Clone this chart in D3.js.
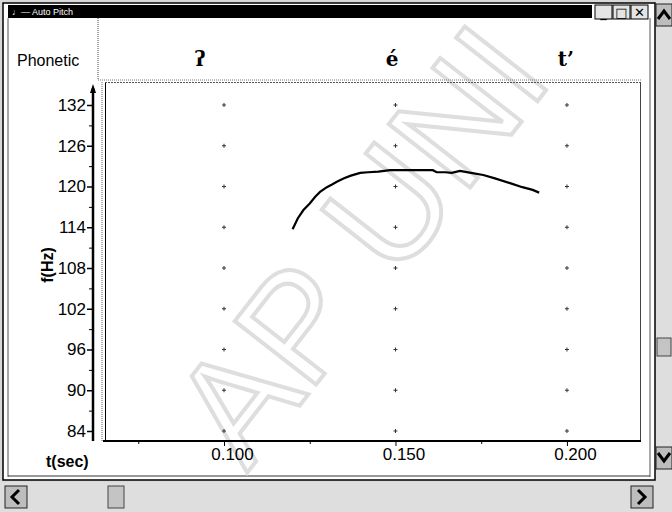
<!DOCTYPE html>
<html>
<head>
<meta charset="utf-8">
<script src="https://cdn.jsdelivr.net/npm/d3@7"></script>
<style>
  body { margin: 0; background: #d9d9d9; }
  svg { display: block; }
  .tick text { font-family: "Liberation Sans Narrow", "Liberation Sans", Arial, sans-serif; font-size: 17px; fill: #000; }
</style>
</head>
<body>
<svg id="chart" width="672" height="512"></svg>
<script>
// pitch track (seconds, Hz)
const times = [0.1200, 0.1215, 0.1231, 0.1250, 0.1266, 0.1280, 0.1300, 0.1315, 0.1329, 0.1350,
  0.1370, 0.1397, 0.1420, 0.1450, 0.1484, 0.1520, 0.1560, 0.1590, 0.1609, 0.1620, 0.1645,
  0.1664, 0.1688, 0.1720, 0.1756, 0.1790, 0.1834, 0.1870, 0.1900, 0.1919];
const pitch = [113.7, 115.3, 116.5, 117.5, 118.5, 119.2, 119.9, 120.3, 120.7, 121.2,
  121.6, 122.0, 122.1, 122.2, 122.4, 122.4, 122.4, 122.4, 122.4, 122.1, 122.1,
  122.0, 122.3, 122.0, 121.7, 121.2, 120.5, 119.9, 119.5, 119.1];

const yTicks = [84, 90, 96, 102, 108, 114, 120, 126, 132];
const yMinor = [87, 93, 99, 105, 111, 117, 123, 129];
const xTicks = [0.100, 0.150, 0.200];
const xTickLabels = ['0.100', '0.150', '0.200'];
const xMinor = [0.075, 0.125, 0.175];

const phonetic = ['ʔ', 'é', 't’'];
const phoneticTimes = [0.093, 0.149, 0.1997];

// faint scan watermark letters
const wmLetters = ['A', 'P', 'U', 'N', 'I'];
const wmOffsets = [0, 100, 242, 350, 458];

const svg = d3.select('#chart');

const x = d3.scaleLinear().domain([0.0653, 0.2213]).range([105, 640]);
const y = d3.scaleLinear().domain([84, 132]).range([431, 105]);

//window body
svg.append('rect').attr('x', 3).attr('y', 3).attr('width', 652).attr('height', 477)
  .attr('fill', '#fff').attr('stroke', '#000').attr('stroke-width', 1.5);
svg.append('line').attr('x1', 8).attr('x2', 8).attr('y1', 18).attr('y2', 477).attr('stroke', '#555');
svg.append('line').attr('x1', 650).attr('x2', 650).attr('y1', 18).attr('y2', 477).attr('stroke', '#555');
svg.append('line').attr('x1', 8).attr('x2', 650).attr('y1', 476).attr('y2', 476).attr('stroke', '#333');

// watermark
const ang = -52 * Math.PI / 180;
svg.append('g').selectAll('text')
  .data(wmLetters)
  .join('text')
  .attr('transform', (d, i) => `translate(${247 + wmOffsets[i] * Math.cos(ang)},${473 + wmOffsets[i] * Math.sin(ang)}) rotate(-52)`)
  .attr('font-family', 'Liberation Sans, Arial, sans-serif')
  .attr('font-size', 150)
  .attr('fill', 'none').attr('stroke', '#dedede').attr('stroke-width', 4)
  .text(d => d);

//title bar
svg.append('rect').attr('x', 8).attr('y', 5).attr('width', 584).attr('height', 13).attr('fill', '#000');
svg.append('text').attr('x', 12).attr('y', 15)
  .attr('font-family', 'Liberation Sans, Arial, sans-serif').attr('font-size', 9)
  .attr('fill', '#fff').text('♩— Auto Pitch');
const btnX = [595, 613, 631];
const btnGlyph = ['_', '□', '✕'];
btnX.forEach((bx, i) => {
  svg.append('rect').attr('x', bx).attr('y', 5).attr('width', 17).attr('height', 14)
    .attr('fill', '#e4e4e4').attr('stroke', '#000');
  svg.append('text').attr('x', bx + 8.5).attr('y', 17).attr('text-anchor', 'middle')
    .attr('font-family', 'DejaVu Sans, sans-serif').attr('font-weight', 'bold').attr('font-size', 13)
    .text(btnGlyph[i]);
});

// phonetic row
svg.append('text').attr('x', 17).attr('y', 66)
  .attr('font-family', 'Liberation Sans, Arial, sans-serif').attr('font-size', 16)
  .text('Phonetic');
svg.append('line').attr('x1', 98).attr('x2', 98).attr('y1', 18).attr('y2', 80)
  .attr('stroke', '#444').attr('stroke-dasharray', '1,1');
svg.append('line').attr('x1', 98).attr('x2', 642).attr('y1', 80).attr('y2', 80)
  .attr('stroke', '#777').attr('stroke-dasharray', '1,1');
svg.selectAll('text.phon')
  .data(phonetic)
  .join('text')
  .attr('class', 'phon')
  .attr('x', (d, i) => x(phoneticTimes[i]))
  .attr('y', 66)
  .attr('text-anchor', 'middle')
  .attr('font-family', 'DejaVu Serif, serif')
  .attr('font-weight', 'bold')
  .attr('font-size', 20)
  .text(d => d);

// plot frame
svg.append('line').attr('x1', 102).attr('x2', 102).attr('y1', 82).attr('y2', 441)
  .attr('stroke', '#666').attr('stroke-dasharray', '1,1');
svg.append('line').attr('x1', 105.5).attr('x2', 105.5).attr('y1', 82).attr('y2', 441).attr('stroke', '#000');
svg.append('line').attr('x1', 105).attr('x2', 640).attr('y1', 82.5).attr('y2', 82.5)
  .attr('stroke', '#555').attr('stroke-dasharray', '2,1');
svg.append('line').attr('x1', 640.5).attr('x2', 640.5).attr('y1', 82).attr('y2', 441).attr('stroke', '#444');

// grid plus marks
const gridPts = [];
xTicks.forEach(t => yTicks.forEach(f => gridPts.push([t, f])));
svg.append('g').selectAll('path')
  .data(gridPts)
  .join('path')
  .attr('d', d => `M${x(d[0]) - 2},${y(d[1])}h4M${x(d[0])},${y(d[1]) - 2}v4`)
  .attr('stroke', '#333').attr('stroke-width', 1);

// y axis
const yAxis = svg.append('g').attr('transform', 'translate(93,0)')
  .call(d3.axisLeft(y).tickValues(yTicks).tickSize(6).tickSizeOuter(0).tickPadding(1));
yAxis.select('.domain').remove();
yAxis.selectAll('.tick line').attr('stroke-width', 1.5);
svg.append('g').attr('transform', 'translate(93,0)')
  .call(d3.axisLeft(y).tickValues(yMinor).tickSize(4).tickFormat(''))
  .select('.domain').remove();
svg.append('line').attr('x1', 93).attr('x2', 93).attr('y1', 88).attr('y2', 441)
  .attr('stroke', '#000').attr('stroke-width', 2.5);
svg.append('path').attr('d', 'M93,84 L90,93 L96,93 Z').attr('fill', '#000');

// x axis
const xAxis = svg.append('g').attr('transform', 'translate(0,441)')
  .call(d3.axisBottom(x).tickValues(xTicks).tickSize(5).tickSizeOuter(0).tickPadding(2)
    .tickFormat((d, i) => xTickLabels[i]));
xAxis.select('.domain').remove();
xAxis.selectAll('.tick text').attr('dx', 8);
svg.append('g').attr('transform', 'translate(0,441)')
  .call(d3.axisBottom(x).tickValues(xMinor).tickSize(3).tickFormat(''))
  .select('.domain').remove();
svg.append('line').attr('x1', 103).attr('x2', 641).attr('y1', 441).attr('y2', 441)
  .attr('stroke', '#000').attr('stroke-width', 2);

// axis titles
svg.append('text')
  .attr('transform', 'translate(53,265) rotate(-90)')
  .attr('text-anchor', 'middle')
  .attr('font-family', 'Liberation Sans, Arial, sans-serif').attr('font-weight', 'bold').attr('font-size', 16)
  .text('f(Hz)');
svg.append('text').attr('x', 46).attr('y', 467)
  .attr('font-family', 'Liberation Sans, Arial, sans-serif').attr('font-weight', 'bold').attr('font-size', 16)
  .text('t(sec)');

// pitch curve
const line = d3.line().x((d, i) => x(times[i])).y(d => y(d));
svg.append('path')
  .attr('d', line(pitch))
  .attr('fill', 'none').attr('stroke', '#000').attr('stroke-width', 2.2);

// scroll bars
function arrowBtn(bx, by, w, h, d) {
  svg.append('rect').attr('x', bx).attr('y', by).attr('width', w).attr('height', h)
    .attr('fill', '#bdbdbd').attr('stroke', '#222');
  svg.append('path').attr('d', d).attr('fill', 'none').attr('stroke', '#000').attr('stroke-width', 3);
}
svg.append('rect').attr('x', 0).attr('y', 482).attr('width', 672).attr('height', 30).attr('fill', '#dedede');
svg.append('rect').attr('x', 656).attr('y', 0).attr('width', 16).attr('height', 512).attr('fill', '#dedede');
arrowBtn(5, 486, 22, 22, 'M19,490 L12,497 L19,504');
arrowBtn(631, 486, 22, 22, 'M638,490 L645,497 L638,504');
arrowBtn(656, 4, 16, 22, 'M658,19 L664,11 L670,19');
arrowBtn(656, 447, 16, 22, 'M658,453 L664,461 L670,453');
svg.append('rect').attr('x', 108).attr('y', 486).attr('width', 16).attr('height', 22)
  .attr('fill', '#c4c4c4').attr('stroke', '#444');
svg.append('rect').attr('x', 657).attr('y', 338).attr('width', 14).attr('height', 18)
  .attr('fill', '#c4c4c4').attr('stroke', '#444');
</script>
</body>
</html>
